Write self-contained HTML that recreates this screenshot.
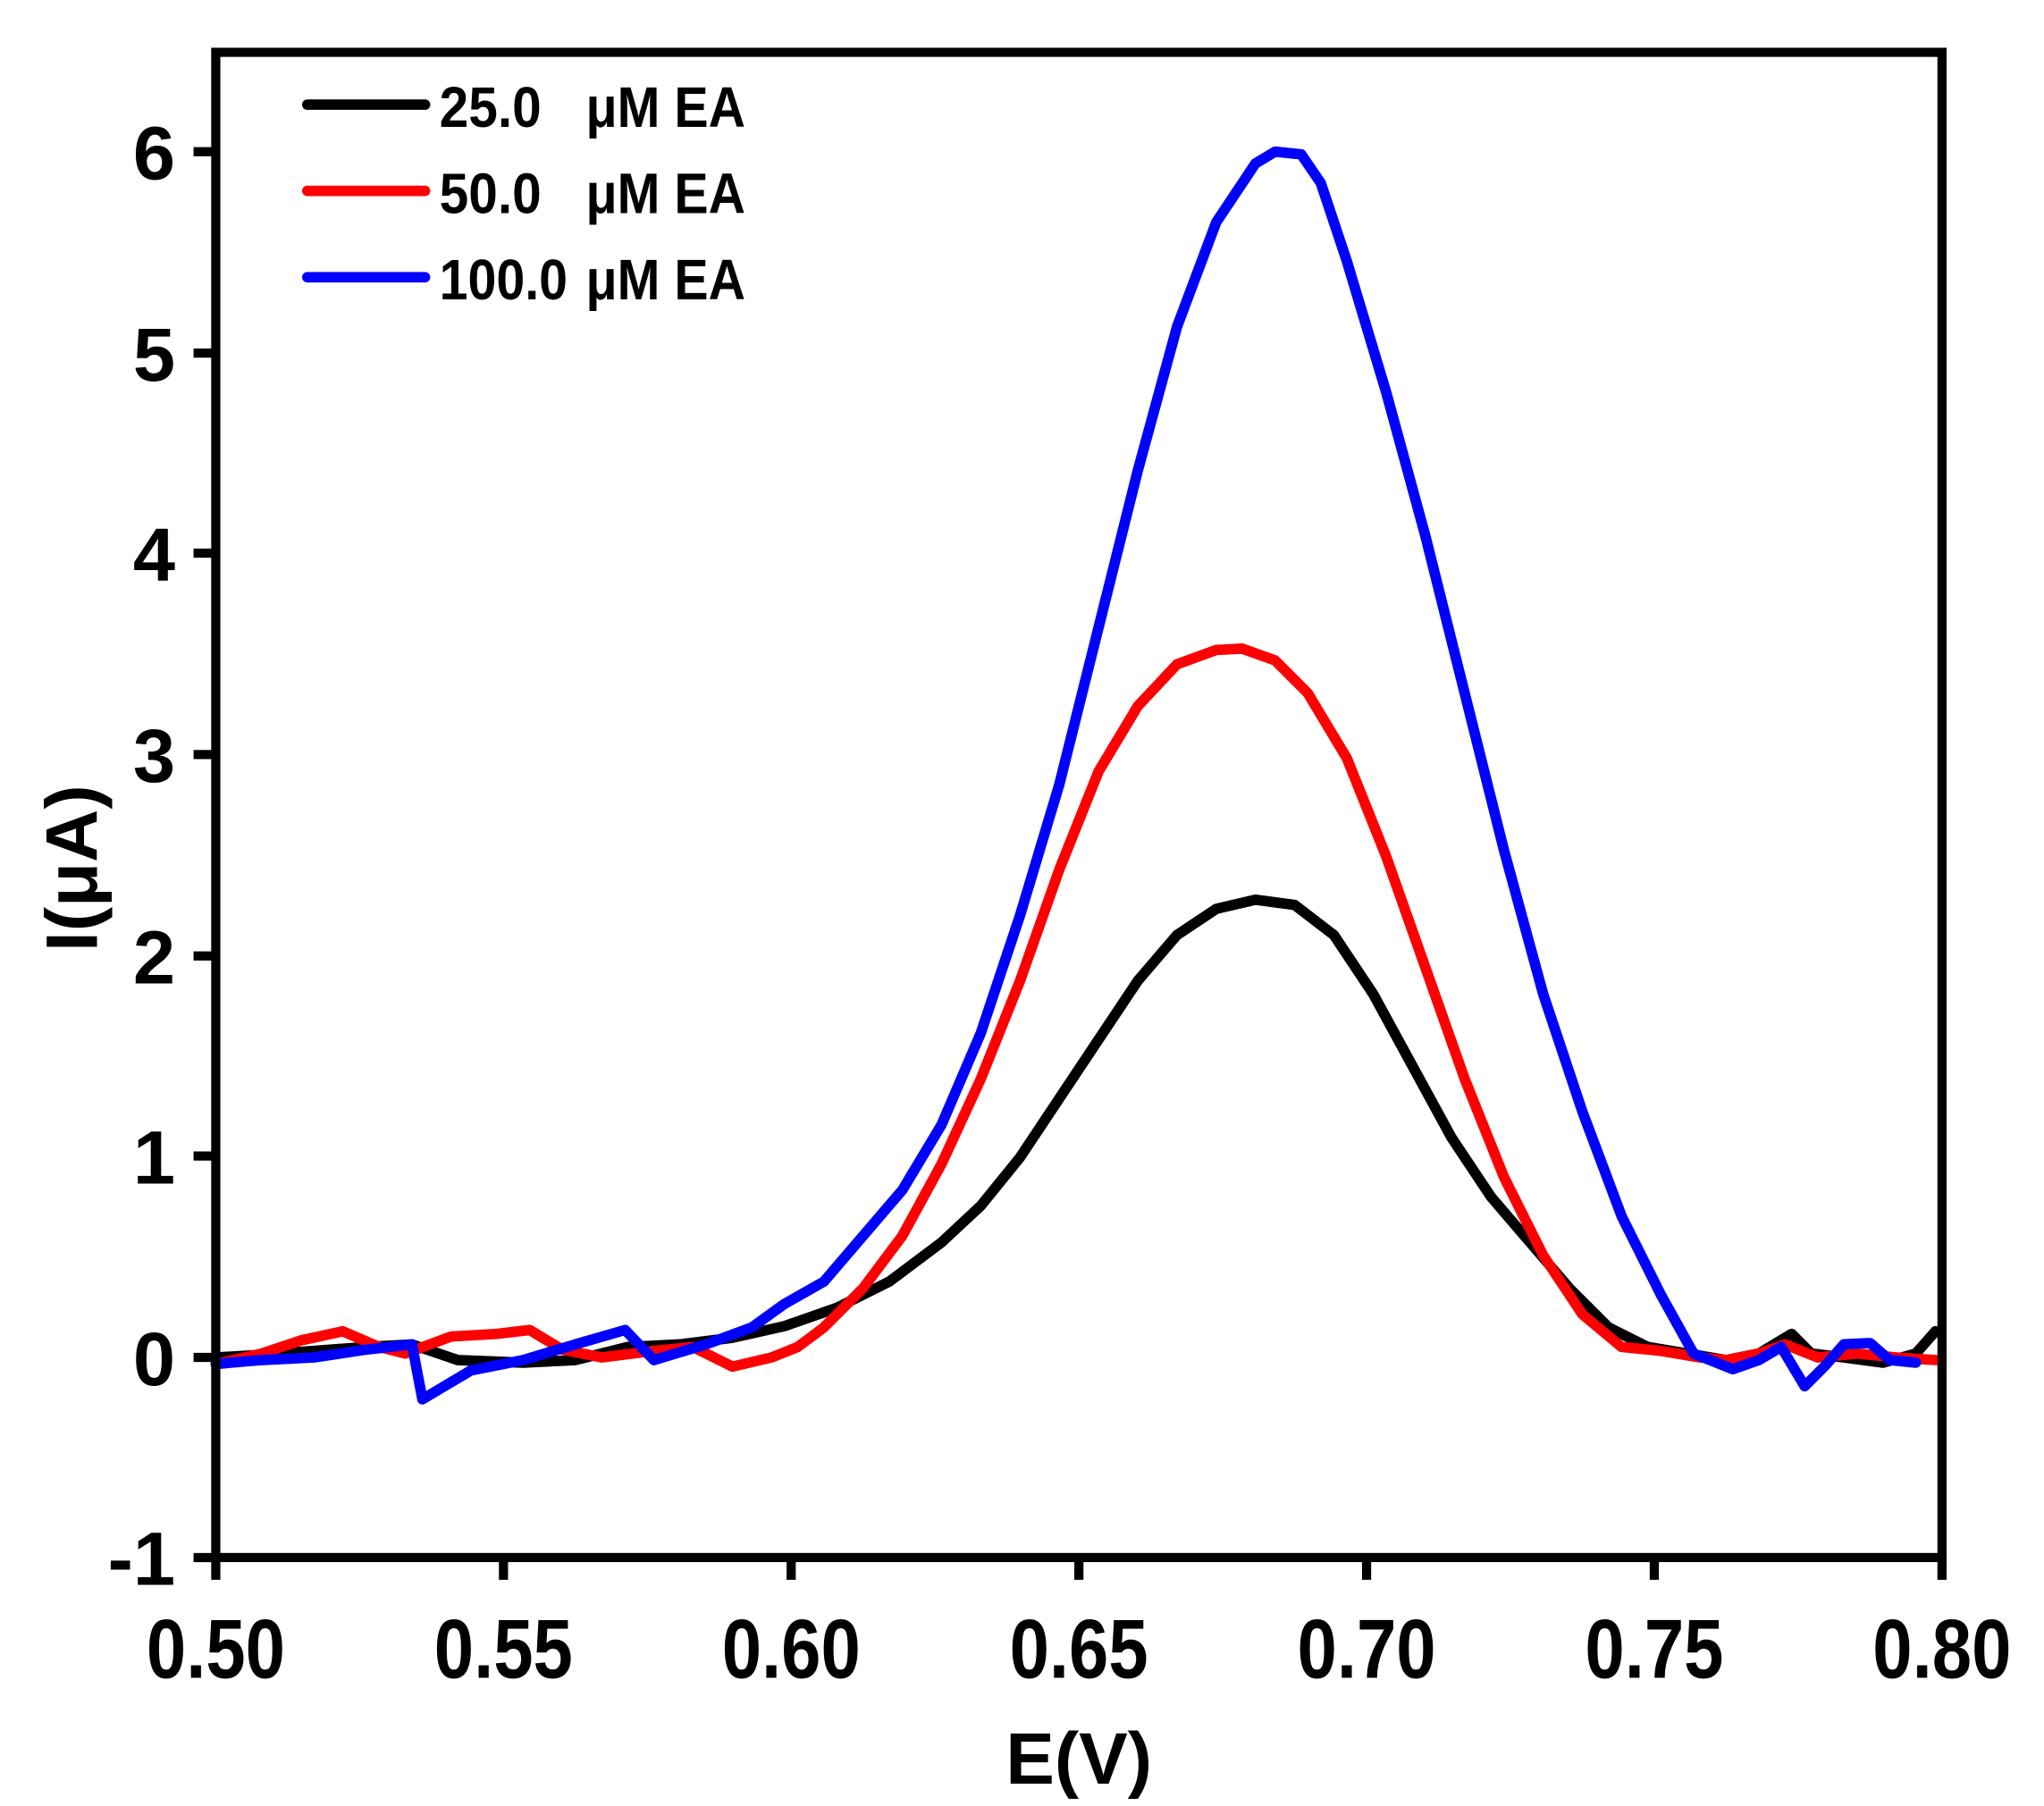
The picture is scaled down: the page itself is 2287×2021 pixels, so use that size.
<!DOCTYPE html>
<html><head><meta charset="utf-8"><style>html,body{margin:0;padding:0;background:#fff}svg{display:block}</style></head>
<body>
<svg width="2287" height="2021" viewBox="0 0 1563 1381" preserveAspectRatio="none" xmlns="http://www.w3.org/2000/svg" font-family="Liberation Sans, sans-serif" font-weight="bold">
<rect width="1563" height="1381" fill="#fff"/>
<g fill="none" stroke-linejoin="round" stroke-linecap="round" stroke-width="8">
<polyline stroke="#000" points="165,1038 200,1036 240,1033 280,1030 315,1028 350,1040 400,1042 440,1040 480,1030 520,1028 560,1023 600,1014 640,1000 680,980 720,950 750,922 780,885 810,840 840,795 870,750 900,715 930,695 960,688 990,692 1020,715 1050,760 1080,815 1110,870 1140,915 1170,950 1200,985 1230,1015 1260,1030 1290,1035 1320,1040 1345,1035 1370,1020 1385,1035 1410,1038 1440,1042 1465,1035 1480,1018"/>
<polyline stroke="#f00" points="165,1043 200,1035 230,1025 262,1018 290,1030 310,1035 345,1022 380,1020 405,1017 430,1032 460,1038 500,1033 530,1030 560,1045 590,1038 610,1030 630,1015 660,985 690,945 720,890 750,825 780,750 810,665 840,590 870,540 900,508 930,497 950,496 975,505 1000,530 1030,580 1060,655 1090,740 1120,825 1150,900 1180,960 1210,1005 1240,1030 1270,1033 1300,1038 1320,1040 1345,1035 1365,1028 1390,1038 1420,1035 1450,1038 1480,1040"/>
<polyline stroke="#00f" points="165,1043 200,1040 240,1038 280,1032 315,1028 323,1070 360,1048 400,1040 440,1028 478,1017 500,1040 540,1028 575,1015 600,997 630,980 660,945 690,910 720,860 750,790 780,700 810,600 840,480 870,360 900,250 930,170 960,125 975,116 995,118 1010,140 1030,200 1060,300 1090,410 1120,530 1150,650 1180,760 1210,850 1240,930 1270,990 1295,1035 1325,1047 1345,1040 1362,1030 1380,1060 1395,1045 1410,1028 1430,1027 1445,1040 1465,1042"/>
<line x1="235" y1="80" x2="325" y2="80" stroke="#000"/>
<line x1="235" y1="146" x2="325" y2="146" stroke="#f00"/>
<line x1="235" y1="212" x2="325" y2="212" stroke="#00f"/>
</g>
<g stroke="#000" stroke-width="7" fill="none">
<rect x="165" y="40" width="1320" height="1151"/>
<path d="M148,116H165M148,270H165M148,423H165M148,577H165M148,731H165M148,884H165M148,1038H165M148,1191H165"/>
<path d="M165,1191V1208M385,1191V1208M605,1191V1208M825,1191V1208M1045,1191V1208M1265,1191V1208M1485,1191V1208"/>
</g>
<g font-size="44" fill="#000">
<text x="336" y="97" textLength="78" lengthAdjust="spacingAndGlyphs">25.0</text><text x="448" y="97" textLength="122" lengthAdjust="spacingAndGlyphs">μM EA</text>
<text x="336" y="163" textLength="78" lengthAdjust="spacingAndGlyphs">50.0</text><text x="448" y="163" textLength="122" lengthAdjust="spacingAndGlyphs">μM EA</text>
<text x="336" y="229" textLength="98" lengthAdjust="spacingAndGlyphs">100.0</text><text x="448" y="229" textLength="122" lengthAdjust="spacingAndGlyphs">μM EA</text>
</g>
<g font-size="58" fill="#000" text-anchor="end">
<text x="134" y="137">6</text><text x="134" y="291">5</text><text x="134" y="444">4</text><text x="134" y="598">3</text><text x="134" y="752">2</text><text x="134" y="905">1</text><text x="134" y="1059">0</text><text x="134" y="1212">-1</text>
</g>
<g font-size="64" fill="#000" text-anchor="middle">
<text x="165" y="1283" textLength="106" lengthAdjust="spacingAndGlyphs">0.50</text><text x="385" y="1283" textLength="106" lengthAdjust="spacingAndGlyphs">0.55</text><text x="605" y="1283" textLength="106" lengthAdjust="spacingAndGlyphs">0.60</text><text x="825" y="1283" textLength="106" lengthAdjust="spacingAndGlyphs">0.65</text><text x="1045" y="1283" textLength="106" lengthAdjust="spacingAndGlyphs">0.70</text><text x="1265" y="1283" textLength="106" lengthAdjust="spacingAndGlyphs">0.75</text><text x="1485" y="1283" textLength="106" lengthAdjust="spacingAndGlyphs">0.80</text>
</g>
<g font-size="56" fill="#000" text-anchor="middle">
<text x="825" y="1364">E(V)</text>
<text transform="translate(74,664) rotate(-90)">I(μA)</text>
</g>
</svg>
</body></html>
